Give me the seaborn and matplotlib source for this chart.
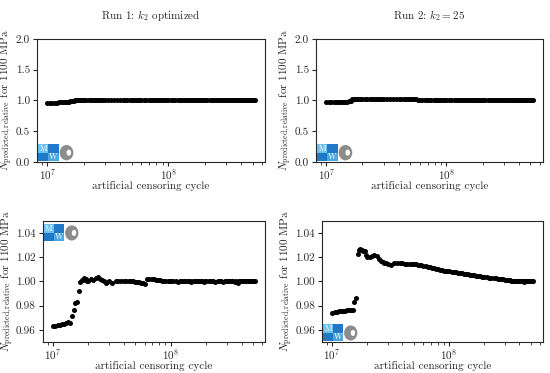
import numpy as np
import pandas as pd
import matplotlib
matplotlib.use("Agg")
import matplotlib.pyplot as plt
from matplotlib.patches import Rectangle, Ellipse
import seaborn as sns

sns.set_style("ticks")
plt.rcParams['font.family'] = ['cmr10', 'DejaVu Serif']
plt.rcParams['mathtext.fontset'] = 'cm'
plt.rcParams['axes.formatter.use_mathtext'] = True
plt.rcParams['font.size'] = 8

# censoring cycles in millions
cycles_mio = [10, 10.5, 11, 11.5, 12, 12.5, 13, 13.5, 14, 14.5, 15, 15.5, 16, 16.5, 17, 17.5, 18, 18.5, 19, 19.5, 20,
              21, 22, 23, 24, 25, 26, 27, 28, 29, 30,
              32, 34, 36, 38, 40, 42, 44, 46, 48, 50, 52, 54, 56, 58, 60,
              63, 66, 69, 72, 75, 78, 81, 84, 87, 90, 94, 98,
              100, 105, 110, 115, 120, 125, 130, 135, 140, 145, 150, 155, 160, 165, 170, 175, 180, 185, 190, 195,
              200, 210, 220, 230, 240, 250, 260, 270, 280, 290, 300, 310, 320, 330, 340, 350, 360, 370, 380, 390,
              400, 410, 420, 430, 440, 450, 460, 470, 480, 490, 500, 510, 520]

# Run 1: k2 optimized
run1 = [0.9632, 0.9634, 0.9637, 0.9642, 0.9648, 0.9652, 0.9660, 0.9662, 0.9660, 0.9712, 0.9762, 0.9818, 0.9832,
        0.9920, 0.9998, 1.0008, 1.0015, 1.0030, 1.0022, 1.0005, 1.0000,
        1.0018, 1.0012, 1.0032, 1.0038, 1.0020, 1.0008, 1.0003, 0.9988, 0.9992, 1.0002,
        0.9990, 1.0004, 1.0006, 1.0003, 1.0005, 1.0004, 1.0002, 1.0003, 1.0001, 0.9999, 0.9997, 0.9994, 0.9990,
        0.9985, 0.9982,
        1.0023, 1.0022, 1.0020, 1.0018, 1.0015, 1.0012, 1.0009, 1.0006, 1.0004, 1.0002, 1.0001, 1.0000,
        1.0000, 1.0001, 1.0000, 0.9999, 1.0000, 1.0001, 1.0000, 1.0000, 1.0001, 1.0000, 0.9999, 1.0000, 1.0001,
        1.0000, 1.0000, 1.0001, 1.0000, 1.0000, 0.9999, 1.0000,
        1.0000, 1.0001, 1.0000, 1.0000, 0.9999, 1.0000, 1.0001, 1.0000, 0.9998, 1.0000, 1.0000, 1.0001, 1.0000,
        1.0000, 1.0000, 0.9999, 1.0000, 0.9990, 1.0000, 1.0001, 1.0000, 1.0000, 1.0001, 1.0000, 1.0000, 1.0000,
        1.0001, 1.0000, 1.0000, 1.0000, 1.0000, 1.0000, 1.0000]

# Run 2: k2 = 25
run2 = [0.9742, 0.9745, 0.9748, 0.9752, 0.9755, 0.9758, 0.9760, 0.9762, 0.9763, 0.9764, 0.9765, 0.9833, 0.9860,
        1.0230, 1.0262, 1.0266, 1.0257, 1.0255, 1.0250, 1.0218, 1.0205,
        1.0200, 1.0208, 1.0216, 1.0210, 1.0181, 1.0170, 1.0162, 1.0154, 1.0148, 1.0142,
        1.0137, 1.0150, 1.0148, 1.0150, 1.0148, 1.0147, 1.0147, 1.0146, 1.0145, 1.0143, 1.0141, 1.0139, 1.0136,
        1.0133, 1.0130,
        1.0126, 1.0122, 1.0118, 1.0114, 1.0110, 1.0106, 1.0100, 1.0095, 1.0092, 1.0089, 1.0087, 1.0085,
        1.0083, 1.0080, 1.0077, 1.0074, 1.0071, 1.0068, 1.0066, 1.0063, 1.0060, 1.0058, 1.0056, 1.0053, 1.0051,
        1.0049, 1.0047, 1.0045, 1.0043, 1.0041, 1.0039, 1.0037,
        1.0035, 1.0033, 1.0031, 1.0029, 1.0027, 1.0025, 1.0023, 1.0021, 1.0019, 1.0017, 1.0015, 1.0013, 1.0011,
        1.0009, 1.0007, 1.0005, 1.0004, 1.0003, 1.0002, 1.0001, 1.0001, 1.0000, 1.0000, 1.0000, 0.9999, 1.0000,
        1.0000, 1.0000, 1.0000, 1.0000, 1.0000, 1.0000, 1.0000]

titles = ["Run 1: $k_2$ optimized", "Run 2: $k_2 = 25$"]
top_yticks = [0.0, 0.5, 1.0, 1.5, 2.0]
bottom_yticks = [0.96, 0.98, 1.00, 1.02, 1.04]

df = pd.DataFrame({"cycle": np.array(cycles_mio) * 1e6, "run1": run1, "run2": run2})


def draw_logo(ax, x0, y0):
    # little institute logo, in axes fraction
    w, h = 0.045, 0.07
    kw = dict(transform=ax.transAxes, clip_on=False, zorder=5, linewidth=0)
    ax.add_patch(Rectangle((x0, y0 + h), w, h, color="#6cc0ee", **kw))
    ax.add_patch(Rectangle((x0 + w, y0 + h), w, h, color="#1f78c8", **kw))
    ax.add_patch(Rectangle((x0, y0), w, h, color="#1f78c8", **kw))
    ax.add_patch(Rectangle((x0 + w, y0), w, h, color="#4aa8e0", **kw))
    ax.text(x0 + w / 2, y0 + 1.5 * h, "M", color="white", fontsize=6, ha="center", va="center",
            transform=ax.transAxes, zorder=6, style="italic")
    ax.text(x0 + 1.5 * w, y0 + 0.5 * h, "W", color="white", fontsize=6, ha="center", va="center",
            transform=ax.transAxes, zorder=6, style="italic")
    ax.add_patch(Ellipse((x0 + 2 * w + 0.035, y0 + h), 0.06, 0.125, color="#8c8c8c", **kw))
    ax.add_patch(Ellipse((x0 + 2 * w + 0.045, y0 + h), 0.02, 0.05, color="white", **kw))


fig = plt.figure(figsize=(5.5, 3.73), dpi=100)
positions = [[0.067, 0.566, 0.415, 0.330], [0.5745, 0.566, 0.4125, 0.330],
             [0.078, 0.083, 0.404, 0.325], [0.5855, 0.083, 0.4015, 0.325]]
axes = [fig.add_axes(p) for p in positions]

for i, ax in enumerate(axes):
    col = "run1" if i % 2 == 0 else "run2"
    sns.scatterplot(data=df, x="cycle", y=col, color="black", s=13, linewidth=0, ax=ax)
    ax.set_xscale("log")
    if i < 2:
        ax.set_ylim(0, 2.0)
        ax.set_yticks(top_yticks)
        ax.set_yticklabels([f"{v:.1f}" for v in top_yticks])
        ax.set_title(titles[i], fontsize=8, pad=14)
    else:
        ax.set_ylim(0.95, 1.05)
        ax.set_yticks(bottom_yticks)
        ax.set_yticklabels([f"{v:.2f}" for v in bottom_yticks])
    ax.set_xlabel("artificial censoring cycle", labelpad=-1)
    ax.set_ylabel(r"$N_{\mathrm{predicted,relative}}$ for 1100 MPa", fontsize=8, labelpad=1)
    ax.tick_params(length=3, width=0.8, pad=2)
    ax.tick_params(axis="x", pad=1)
    ax.tick_params(which="minor", length=2, width=0.6)
    for s in ax.spines.values():
        s.set_visible(True)
        s.set_linewidth(0.8)

draw_logo(axes[0], 0.005, 0.005)
draw_logo(axes[1], 0.005, 0.005)
draw_logo(axes[2], 0.005, 0.83)
draw_logo(axes[3], 0.005, 0.005)

fig.savefig("out.png", dpi=100)
